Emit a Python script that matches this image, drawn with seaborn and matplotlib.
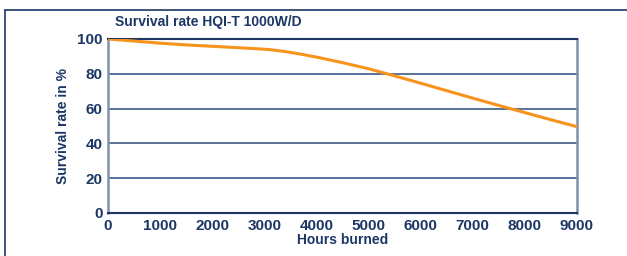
import matplotlib
matplotlib.use("Agg")
import matplotlib.pyplot as plt
from matplotlib.lines import Line2D
import numpy as np
import pandas as pd
import seaborn as sns

hours = [0, 500, 1000, 1500, 2000, 2500, 2800, 3100, 3400, 3700, 4000, 4500, 5000, 5500, 6000, 6500, 7000, 7500, 8000, 8500, 9000]
survival = [100, 98.8, 97.6, 96.6, 95.8, 95.0, 94.5, 93.9, 92.8, 91.3, 89.6, 86.4, 82.9, 78.8, 74.6, 70.3, 66.0, 61.8, 57.7, 53.6, 49.6]
xticks = [0, 1000, 2000, 3000, 4000, 5000, 6000, 7000, 8000, 9000]
yticks = [0, 20, 40, 60, 80, 100]

navy = "#1c3766"
grid_c = "#3c5a88"
orange = "#f7941d"

sns.set_theme(style="white")
plt.rcParams["font.family"] = ["Liberation Sans Narrow", "Liberation Sans", "DejaVu Sans"]

df = pd.DataFrame({"hours": hours, "survival": survival})

fig = plt.figure(figsize=(6.27, 2.56), dpi=100)
ax = fig.add_axes([0.1722, 0.168, 0.748, 0.6797])

for y in yticks[1:-1]:
    ax.axhline(y, color=grid_c, lw=1.2, zorder=1)

sns.lineplot(data=df, x="hours", y="survival", color=orange, lw=2.2, ax=ax, zorder=3)

ax.set_xlim(0, 9000)
ax.set_ylim(0, 100)
ax.set_xticks(xticks)
ax.set_yticks(yticks)
ax.tick_params(axis="both", labelsize=11, colors=navy, length=3, width=1, pad=1)
for lab in ax.get_xticklabels() + ax.get_yticklabels():
    lab.set_fontweight("bold")
ax.tick_params(axis="y", length=0, pad=4)

for side in ["left", "right"]:
    ax.spines[side].set_color("#7d91b0")
    ax.spines[side].set_linewidth(1.8)
for side in ["top", "bottom"]:
    ax.spines[side].set_color(navy)
    ax.spines[side].set_linewidth(1.5)

ax.set_xlabel("Hours burned", fontsize=10, fontweight="bold", color=navy, labelpad=0)
ax.set_ylabel("Survival rate in %", fontsize=10, fontweight="bold", color=navy, labelpad=5)

fig.text(115 / 627, 1 - 22 / 256, "Survival rate HQI-T 1000W/D", fontsize=10,
         fontweight="bold", color=navy, va="center", ha="left")

# outer frame (top and left edges)
fig.add_artist(Line2D([5 / 627, 5 / 627], [0, 1 - 10 / 256], color=navy, lw=1.2, transform=fig.transFigure))
fig.add_artist(Line2D([5 / 627, 1], [1 - 10 / 256, 1 - 10 / 256], color=navy, lw=1.2, transform=fig.transFigure))

fig.savefig("out.png", dpi=100)
